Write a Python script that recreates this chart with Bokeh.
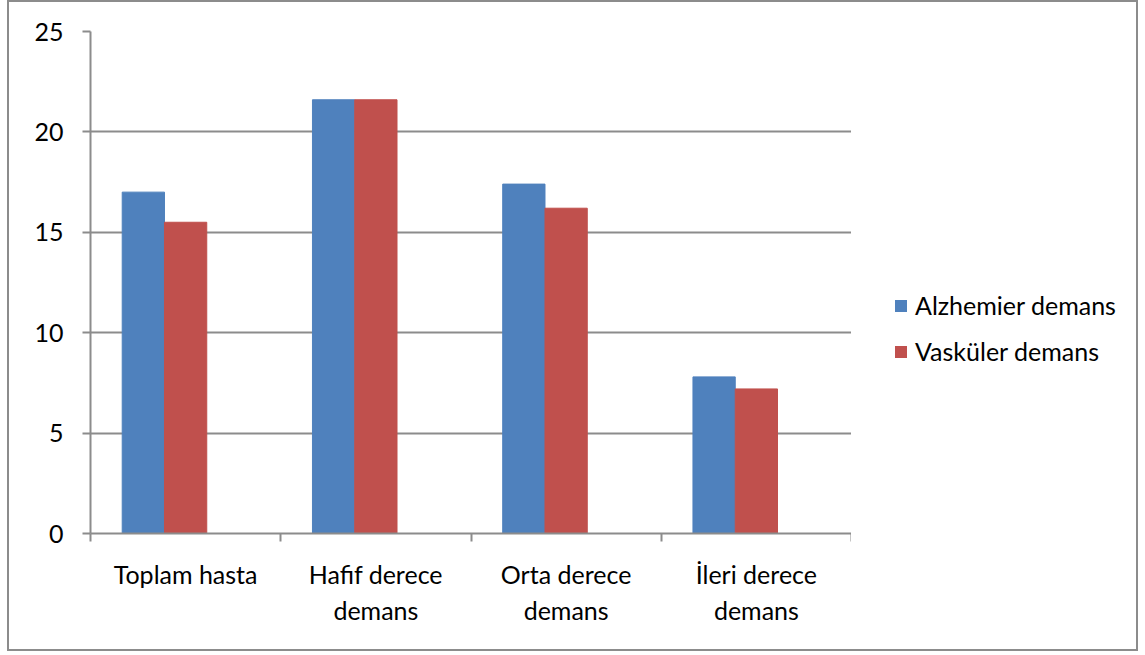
from bokeh.plotting import figure
from bokeh.layouts import row
from bokeh.models import FixedTicker, Legend, LegendItem
from bokeh.embed import file_html
from bokeh.resources import INLINE

# Dementia share by group (%)
categories = ["Toplam hasta", "Hafif derece\ndemans", "Orta derece\ndemans", "İleri derece\ndemans"]
alzheimer = [17.0, 21.6, 17.4, 7.8]
vascular = [15.5, 21.6, 16.2, 7.2]
series_names = ["Alzhemier demans", "Vasküler demans"]
y_ticks = [0, 5, 10, 15, 20, 25]

FONT = "Lato"
FS = "25px"
GRAY = "#8c8c8c"
BLUE = "#4F81BD"
RED = "#C0504D"
H = 647

p = figure(width=842, height=H, x_range=(0, 4), y_range=(0, 25),
           output_backend="svg", toolbar_location=None,
           min_border_left=81, min_border_right=0,
           min_border_top=29, min_border_bottom=116)
p.outline_line_color = None
p.background_fill_color = "white"
p.border_fill_color = "white"

bar_w = 1 / 4.5  # clustered columns, 150% gap width
centers = [i + 0.5 for i in range(len(categories))]
x_blue = [c - bar_w for c in centers]
x_red = centers

p.vbar(x=x_blue, top=alzheimer, width=bar_w, fill_color=BLUE, line_color=BLUE)
p.vbar(x=x_red, top=vascular, width=bar_w, fill_color=RED, line_color=RED)

# x axis: labels at the centres, boundary marks as minor ticks
xa = p.xaxis[0]
xa.ticker = FixedTicker(ticks=centers, minor_ticks=[0, 1, 2, 3, 4])
xa.major_label_overrides = {c: lab for c, lab in zip(centers, categories)}
xa.major_tick_out = 0
xa.major_tick_in = 0
xa.minor_tick_out = 8
xa.minor_tick_in = 0
xa.minor_tick_line_color = GRAY
xa.minor_tick_line_width = 2
xa.axis_line_color = GRAY
xa.axis_line_width = 2
xa.major_label_text_font = FONT
xa.major_label_text_font_size = FS
xa.major_label_text_color = "black"
xa.major_label_standoff = 17

ya = p.yaxis[0]
ya.ticker = FixedTicker(ticks=y_ticks)
ya.major_tick_out = 8
ya.major_tick_in = 0
ya.minor_tick_line_color = None
ya.major_tick_line_color = GRAY
ya.major_tick_line_width = 2
ya.axis_line_color = GRAY
ya.axis_line_width = 2
ya.major_label_text_font = FONT
ya.major_label_text_font_size = FS
ya.major_label_text_color = "black"
ya.major_label_standoff = 19

p.xgrid.visible = False
p.ygrid.ticker = FixedTicker(ticks=y_ticks[1:])
p.ygrid.grid_line_color = GRAY
p.ygrid.grid_line_width = 2

# legend panel to the right of the plot area; its keys are zero-size bars
lg = figure(width=285, height=H, x_range=(0, 285), y_range=(0, H),
            output_backend="svg", toolbar_location=None,
            min_border=0, outline_line_color=None)
lg.axis.visible = False
lg.grid.visible = False
k1 = lg.vbar(x=[0], top=[0], width=0, fill_color=BLUE, line_color=None)
k2 = lg.vbar(x=[0], top=[0], width=0, fill_color=RED, line_color=None)
legend = Legend(items=[LegendItem(label=series_names[0], renderers=[k1]),
                       LegendItem(label=series_names[1], renderers=[k2])],
                location=(42, 167), padding=0, margin=0, spacing=16,
                glyph_width=15, glyph_height=15, label_height=30,
                label_text_font=FONT, label_text_font_size=FS,
                label_text_color="black",
                label_standoff=7, border_line_color=None,
                background_fill_alpha=0)
lg.add_layout(legend, "center")

layout = row(p, lg, styles={"border": f"2px solid {GRAY}", "margin-left": "7px"})

open("out.html", "w").write(file_html(layout, INLINE))
